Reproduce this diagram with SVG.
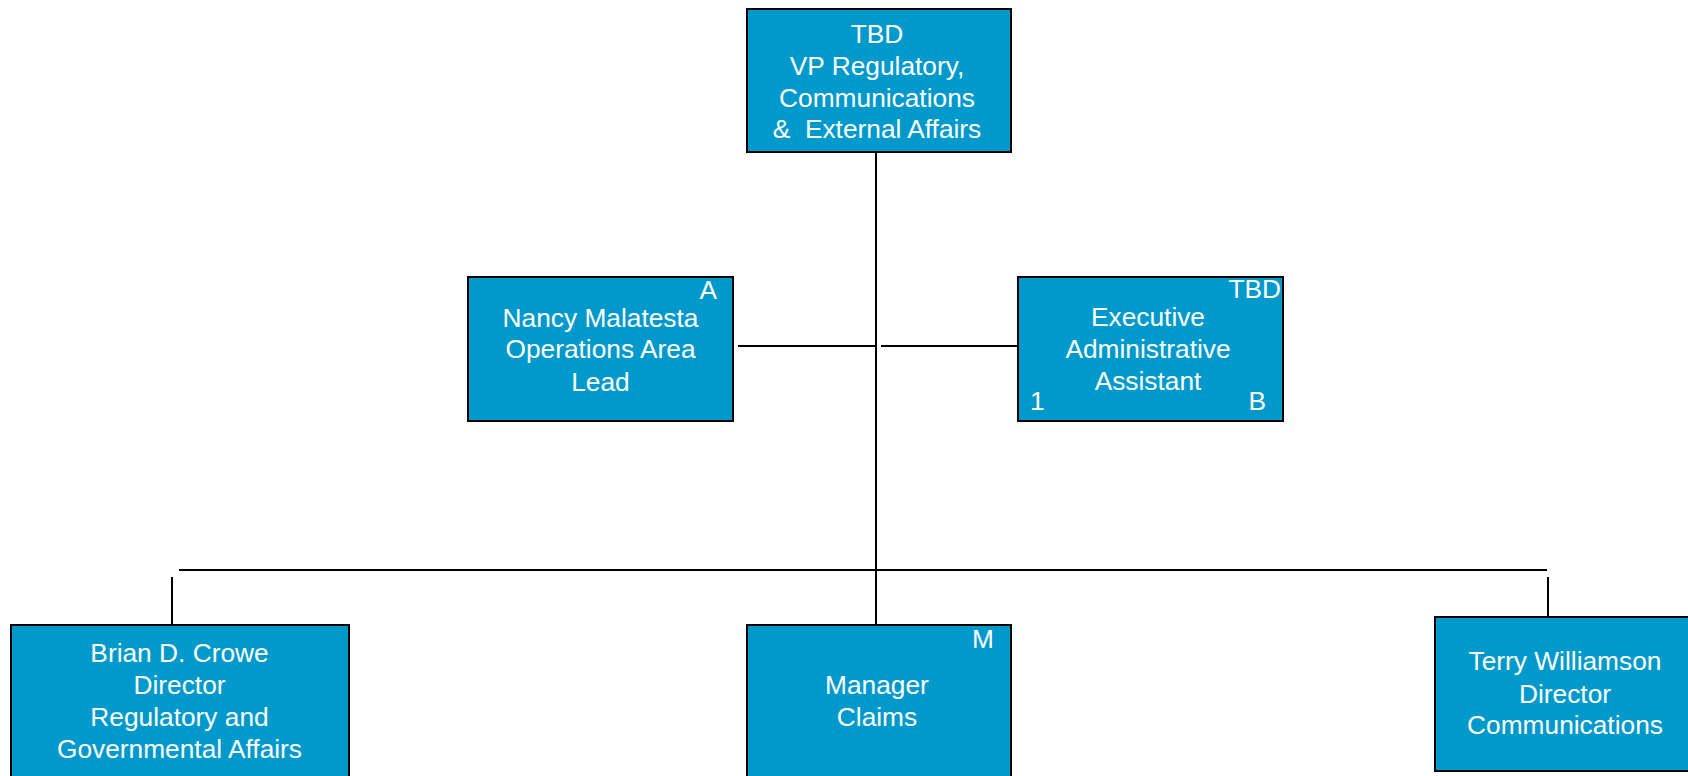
<svg xmlns="http://www.w3.org/2000/svg" width="1688" height="776" viewBox="0 0 1688 776">
<style>
.box{fill:#0099CC;stroke:#000;stroke-width:2}
.t{font-family:"Liberation Sans",Arial,sans-serif;font-size:26.3px;fill:#fff;text-anchor:middle}
.e{text-anchor:end}
.s{text-anchor:start}
.ln{stroke:#000;stroke-width:2;fill:none}
</style>
<rect width="1688" height="776" fill="#fff"/>
<g id="connectors">
<line class="ln" x1="876" y1="152" x2="876" y2="625"/>
<line class="ln" x1="738" y1="346" x2="876" y2="346"/>
<line class="ln" x1="881" y1="346" x2="1018" y2="346"/>
<line class="ln" x1="179" y1="570" x2="1547" y2="570"/>
<line class="ln" x1="172" y1="577" x2="172" y2="625"/>
<line class="ln" x1="1548" y1="577" x2="1548" y2="617"/>
</g>
<g id="vp">
<rect class="box" x="747" y="9" width="264" height="143"/>
<text class="t" x="877" y="43">TBD</text>
<text class="t" x="877" y="75">VP Regulatory,</text>
<text class="t" x="877" y="107">Communications</text>
<text class="t" x="877" y="138" xml:space="preserve">&amp;  External Affairs</text>
</g>
<g id="nancy">
<rect class="box" x="468" y="277" width="265" height="144"/>
<text class="t e" x="717" y="299">A</text>
<text class="t" x="600.5" y="327">Nancy Malatesta</text>
<text class="t" x="600.5" y="358">Operations Area</text>
<text class="t" x="600.5" y="391">Lead</text>
</g>
<g id="exec">
<rect class="box" x="1018" y="277" width="265" height="144"/>
<text class="t e" x="1281" y="298">TBD</text>
<text class="t" x="1148" y="326">Executive</text>
<text class="t" x="1148" y="358">Administrative</text>
<text class="t" x="1148" y="390">Assistant</text>
<text class="t s" x="1030" y="410">1</text>
<text class="t e" x="1266" y="410">B</text>
</g>
<g id="brian">
<rect class="box" x="11" y="625" width="338" height="200"/>
<text class="t" x="179.5" y="662">Brian D. Crowe</text>
<text class="t" x="179.5" y="694">Director</text>
<text class="t" x="179.5" y="726">Regulatory and</text>
<text class="t" x="179.5" y="758">Governmental Affairs</text>
</g>
<g id="manager">
<rect class="box" x="747" y="625" width="264" height="200"/>
<text class="t e" x="994" y="648">M</text>
<text class="t" x="877" y="694">Manager</text>
<text class="t" x="877" y="726">Claims</text>
</g>
<g id="terry">
<rect class="box" x="1435" y="617" width="264" height="154"/>
<text class="t" x="1565" y="670">Terry Williamson</text>
<text class="t" x="1565" y="703">Director</text>
<text class="t" x="1565" y="734">Communications</text>
</g>
</svg>
